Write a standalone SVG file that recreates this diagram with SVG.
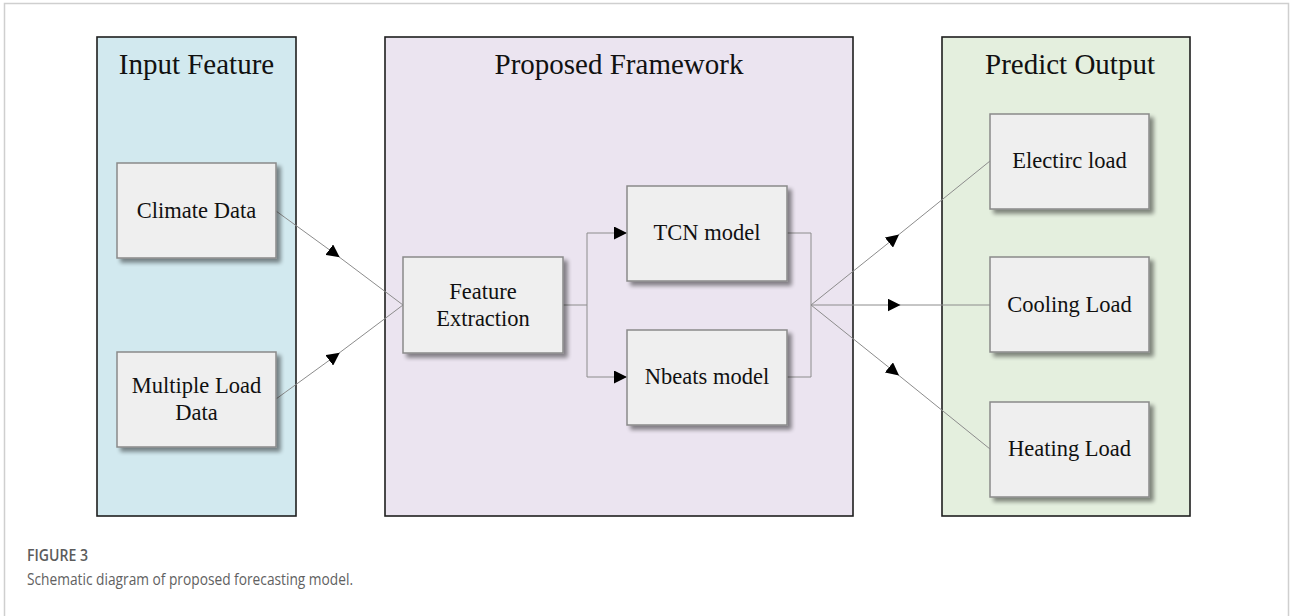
<svg xmlns="http://www.w3.org/2000/svg" width="1290" height="616" viewBox="0 0 1290 616">
  <style>
    .panel { stroke: #1f1f1f; stroke-width: 1.6; }
    .box { fill: #efefef; stroke: #8a8a8a; stroke-width: 1.5; filter: url(#shadow); }
    .title { font-family: "Liberation Serif", "Times New Roman", serif; font-size: 29px; fill: #111; text-anchor: middle; }
    .label { font-family: "Liberation Serif", "Times New Roman", serif; font-size: 22.5px; fill: #111; text-anchor: middle; }
    .wire { fill: none; stroke: #8c8c8c; stroke-width: 1; }
    .cap-head { font-family: "Open Sans", "Liberation Sans", sans-serif; font-size: 17px; font-weight: 600; fill: #5c5c5c; }
    .cap-text { font-family: "Open Sans", "Liberation Sans", sans-serif; font-size: 17px; fill: #616161; }
  </style>
  <defs>
    <filter id="shadow" x="-10%" y="-10%" width="125%" height="130%">
      <feGaussianBlur in="SourceAlpha" stdDeviation="2.2"/>
      <feOffset dx="4" dy="4" result="blur"/>
      <feComponentTransfer><feFuncA type="linear" slope="0.45"/></feComponentTransfer>
      <feMerge><feMergeNode/><feMergeNode in="SourceGraphic"/></feMerge>
    </filter>
    <marker id="tri" viewBox="0 0 10 10" refX="5" refY="5" markerWidth="13" markerHeight="13" markerUnits="userSpaceOnUse" orient="auto">
      <path d="M0,0 L10,5 L0,10 z" fill="#000"/>
    </marker>
    <marker id="tip" viewBox="0 0 10 10" refX="10" refY="5" markerWidth="13" markerHeight="13" markerUnits="userSpaceOnUse" orient="auto">
      <path d="M0,0 L10,5 L0,10 z" fill="#000"/>
    </marker>
  </defs>

  <rect width="1290" height="616" fill="#fff"/>
  <!-- page frame -->
  <path d="M4.5,616 V3.5 H1288.5 V616" fill="none" stroke="#cfcfcf" stroke-width="1.5"/>

  <!-- column panels -->
  <g id="panel-input">
    <rect class="panel" x="97" y="37" width="199" height="479" fill="#d2e9ef"/>
    <text class="title" x="196.5" y="74">Input Feature</text>
  </g>
  <g id="panel-framework">
    <rect class="panel" x="385" y="37" width="468" height="479" fill="#ebe4f0"/>
    <text class="title" x="619" y="74">Proposed Framework</text>
  </g>
  <g id="panel-output">
    <rect class="panel" x="942" y="37" width="248" height="479" fill="#e4efde"/>
    <text class="title" x="1070" y="74">Predict Output</text>
  </g>

  <!-- connectors -->
  <g id="connectors">
    <path class="wire" d="M276,211 L334.5,253.5 L403,305" marker-mid="url(#tri)"/>
    <path class="wire" d="M276,399 L334.5,356.5 L403,305" marker-mid="url(#tri)"/>
    <path class="wire" d="M563,305 H587 V233 H627" marker-end="url(#tip)"/>
    <path class="wire" d="M587,305 V377 H627" marker-end="url(#tip)"/>
    <path class="wire" d="M787,233 H811 V377 H787"/>
    <path class="wire" d="M811,305 L894,238.5 L990,161" marker-mid="url(#tri)"/>
    <path class="wire" d="M811,305 L894,305 L990,305" marker-mid="url(#tri)"/>
    <path class="wire" d="M811,305 L894,371.5 L990,449" marker-mid="url(#tri)"/>
  </g>

  <!-- input nodes -->
  <g id="climate-data">
    <rect class="box" x="117" y="163" width="159" height="95"/>
    <text class="label" x="196.5" y="218">Climate Data</text>
  </g>
  <g id="multiple-load-data">
    <rect class="box" x="117" y="352" width="159" height="95"/>
    <text class="label" x="196.5" y="393">Multiple Load</text>
    <text class="label" x="196.5" y="420">Data</text>
  </g>

  <!-- framework nodes -->
  <g id="feature-extraction">
    <rect class="box" x="403" y="257" width="160" height="96"/>
    <text class="label" x="483" y="299">Feature</text>
    <text class="label" x="483" y="326">Extraction</text>
  </g>
  <g id="tcn-model">
    <rect class="box" x="627" y="186" width="160" height="95"/>
    <text class="label" x="707" y="240">TCN model</text>
  </g>
  <g id="nbeats-model">
    <rect class="box" x="627" y="330" width="160" height="95"/>
    <text class="label" x="707" y="384">Nbeats model</text>
  </g>

  <!-- output nodes -->
  <g id="electric-load">
    <rect class="box" x="990" y="114" width="159" height="95"/>
    <text class="label" x="1069.5" y="168">Electirc load</text>
  </g>
  <g id="cooling-load">
    <rect class="box" x="990" y="257" width="159" height="95"/>
    <text class="label" x="1069.5" y="312">Cooling Load</text>
  </g>
  <g id="heating-load">
    <rect class="box" x="990" y="402" width="159" height="95"/>
    <text class="label" x="1069.5" y="456">Heating Load</text>
  </g>

  <!-- caption -->
  <text class="cap-head" x="27" y="561" textLength="61" lengthAdjust="spacingAndGlyphs">FIGURE 3</text>
  <text class="cap-text" x="27" y="585" textLength="326" lengthAdjust="spacingAndGlyphs">Schematic diagram of proposed forecasting model.</text>
</svg>
